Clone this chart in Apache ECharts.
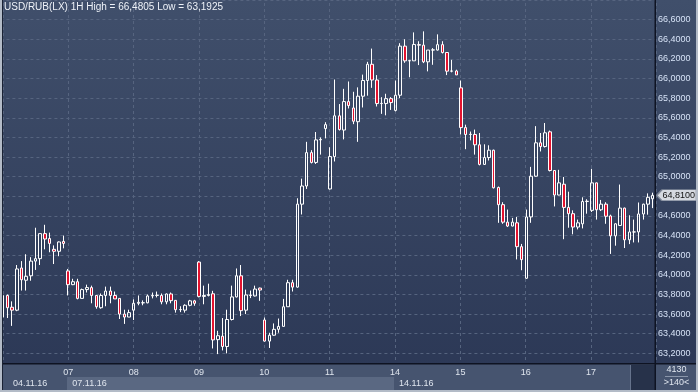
<!DOCTYPE html>
<html><head><meta charset="utf-8">
<script src="https://cdn.jsdelivr.net/npm/echarts@6/dist/echarts.min.js"></script>
<style>html,body{margin:0;padding:0;background:#2c3856}#c{width:698px;height:392px}</style>
</head><body><div id="c"></div><script>
// ---- data ----
const days = ['04.11','07.11','08.11','09.11','10.11','11.11','14.11','15.11','16.11','17.11'];
const hours = ['10','11','12','13','14','15','16','17','18','19','20','21','22','23'];
const categories = days.flatMap(d => hours.map(h => d + ' ' + h + ':00'));
const dayLabels = ['', '07', '08', '09', '10', '11', '14', '15', '16', '17', ''];
const weekLabels = ['04.11.16', '07.11.16', '14.11.16'];
const weekStartIdx = [0, 14, 84];
const yTickLabels = ['63,2000','63,4000','63,6000','63,8000','64,0000','64,2000','64,4000','64,6000','64,8000','65,0000','65,2000','65,4000','65,6000','65,8000','66,0000','66,2000','66,4000','66,6000'];

const open = [
63.57,63.79,63.67,63.64,64.07,63.945,63.99,64.14,64.165,64.42,64.37,64.26,64.24,64.34,
64.04,63.90,63.93,63.76,63.85,63.87,63.79,63.665,63.79,63.835,63.79,63.76,63.60,63.57,
63.64,63.71,63.715,63.715,63.785,63.79,63.79,63.725,63.805,63.74,63.645,63.64,63.69,63.735,
64.13,63.78,63.79,63.807,63.34,63.375,63.27,63.545,63.775,63.99,63.64,63.795,63.785,63.865,
63.54,63.325,63.385,63.445,63.475,63.675,63.92,63.875,64.72,64.905,65.245,65.145,65.375,65.49,
64.875,65.205,65.62,65.475,65.765,65.70,65.56,65.82,65.98,66.145,65.985,65.745,65.745,65.795,
65.675,65.83,66.33,66.18,66.18,66.345,66.34,66.17,66.29,66.29,66.345,66.265,66.075,66.077,
65.905,65.50,65.43,65.43,65.325,65.125,65.195,65.27,64.89,64.715,64.537,64.497,64.53,64.287,
63.965,64.59,65.005,65.345,65.307,65.457,65.063,64.813,64.923,64.687,64.623,64.487,64.52,64.747,
64.657,64.937,64.663,64.72,64.60,64.397,64.503,64.68,64.357,64.437,64.437,64.62,64.72,64.775];
const close = [
63.79,63.665,63.64,64.06,63.95,63.985,64.14,64.165,64.42,64.365,64.32,64.24,64.335,64.32,
63.90,63.93,63.76,63.85,63.87,63.79,63.675,63.79,63.835,63.79,63.755,63.60,63.57,63.615,
63.71,63.72,63.716,63.785,63.79,63.792,63.725,63.805,63.737,63.645,63.647,63.69,63.735,63.71,
63.78,63.79,63.80,63.337,63.38,63.27,63.545,63.775,63.99,63.635,63.795,63.79,63.855,63.845,
63.325,63.385,63.445,63.475,63.675,63.92,63.875,64.72,64.905,65.245,65.145,65.375,65.38,65.53,
65.205,65.62,65.48,65.765,65.725,65.565,65.82,65.98,66.145,65.985,65.745,65.747,65.795,65.755,
65.83,66.33,66.18,66.182,66.347,66.34,66.17,66.29,66.292,66.345,66.265,66.075,66.077,66.037,
65.50,65.43,65.432,65.325,65.125,65.195,65.27,64.887,64.715,64.537,64.497,64.537,64.287,64.155,
64.59,65.005,65.345,65.307,65.447,65.063,64.813,64.937,64.687,64.623,64.487,64.53,64.747,64.75,
64.937,64.663,64.72,64.597,64.397,64.52,64.68,64.357,64.437,64.437,64.62,64.72,64.79,64.81];
const low = [
63.55,63.56,63.48,63.63,63.84,63.84,63.94,64.05,64.10,64.26,64.23,64.11,64.19,64.27,
63.79,63.895,63.75,63.76,63.82,63.71,63.655,63.655,63.68,63.71,63.755,63.55,63.50,63.57,
63.54,63.69,63.69,63.71,63.76,63.77,63.70,63.70,63.71,63.615,63.62,63.615,63.68,63.685,
63.77,63.70,63.78,63.25,63.1925,63.23,63.20,63.535,63.77,63.58,63.60,63.763,63.78,63.735,
63.32,63.255,63.38,63.41,63.475,63.675,63.83,63.87,64.615,64.875,65.135,65.13,65.225,65.39,
64.87,65.155,65.47,65.38,65.695,65.535,65.355,65.705,65.825,65.905,65.715,65.64,65.625,65.68,
65.665,65.80,66.16,66.013,66.18,66.137,66.157,66.073,66.14,66.285,66.255,66.035,66.063,66.037,
65.43,65.28,65.37,65.225,65.115,65.12,65.165,64.88,64.53,64.52,64.487,64.495,64.157,64.047,
63.96,64.53,65.0,65.257,65.297,65.053,64.697,64.81,64.363,64.48,64.413,64.463,64.473,64.623,
64.64,64.563,64.65,64.52,64.213,64.297,64.50,64.273,64.313,64.33,64.33,64.563,64.613,64.68];
const high = [
63.80,63.80,63.73,64.10,64.14,64.21,64.18,64.48,64.42,64.51,64.43,64.30,64.34,64.40,
64.06,63.96,63.96,63.86,63.90,63.89,63.79,63.81,63.88,63.88,63.83,63.76,63.645,63.645,
63.75,63.79,63.74,63.80,63.82,63.83,63.81,63.81,63.82,63.74,63.68,63.70,63.745,63.745,
64.14,63.89,63.91,63.837,63.43,63.56,63.645,63.89,64.065,64.10,63.85,63.84,63.89,63.87,
63.565,63.41,63.505,63.555,63.755,63.95,63.95,64.78,64.98,65.355,65.27,65.455,65.40,65.555,
65.30,65.99,65.74,65.895,65.97,65.865,65.91,66.04,66.17,66.305,66.035,65.81,65.845,65.81,
65.98,66.36,66.40,66.19,66.47,66.38,66.4805,66.29,66.31,66.45,66.38,66.27,66.19,66.09,
65.98,65.53,65.46,65.48,65.445,65.33,65.32,65.275,64.90,64.74,64.665,64.58,64.59,64.315,
64.665,65.10,65.515,65.445,65.547,65.47,65.065,65.07,64.997,64.847,64.657,64.563,64.79,64.77,
65.08,64.94,64.763,64.74,64.613,64.525,64.92,64.685,64.607,64.563,64.737,64.725,64.83,64.837];

// ---- build ----
const fmt = v => v.toFixed(4).replace('.', ',');
const candles = open.map((o, i) => [o, close[i], low[i], high[i]]);
const hi = Math.max(...high), lo = Math.min(...low);
const last = close[close.length - 1];
const FONT = 'Arial';
const gridLine = { color: '#56647f', type: [3, 3], width: 1 };

const chart = echarts.init(document.getElementById('c'), null, { renderer: 'canvas' });
chart.setOption({
  animation: false,
  backgroundColor: new echarts.graphic.LinearGradient(0, 0, 0, 1, [
    { offset: 0, color: '#404f6b' }, { offset: 1, color: '#2b3755' }]),
  title: {
    text: 'USD/RUB(LX) 1H High = ' + fmt(hi) + ' Low = ' + fmt(lo),
    left: 4, top: 2, padding: 0,
    textStyle: { fontSize: 10, fontWeight: 'normal', color: '#eef2f8', fontFamily: FONT }
  },
  grid: [
    { left: 0.4, right: 43, top: -7, bottom: 19 },
    { left: 1.8, right: 41.6, top: 3, bottom: 28 }
  ],
  xAxis: [
    { type: 'category', gridIndex: 0, data: categories, show: false, boundaryGap: true, position: 'bottom' },
    { type: 'value', gridIndex: 1, min: 0, max: 140, interval: 14, position: 'bottom',
      axisLine: { show: false }, axisTick: { show: false }, axisLabel: { show: false },
      splitLine: { show: true, lineStyle: gridLine } },
    { type: 'value', gridIndex: 1, min: 0, max: 140, interval: 14, z: 10, position: 'bottom', offset: 0,
      axisLine: { show: false }, axisTick: { show: false }, splitLine: { show: false },
      axisLabel: { margin: 4, fontSize: 9, color: '#dfe5ee', fontFamily: FONT,
        formatter: v => dayLabels[Math.round(v / 14)] || '' } },
    { type: 'value', gridIndex: 1, min: 0, max: 140, interval: 14, z: 10, position: 'bottom', offset: 11,
      axisLine: { show: false }, axisTick: { show: false }, splitLine: { show: false },
      axisLabel: { margin: 4, fontSize: 9, color: '#dfe5ee', fontFamily: FONT, align: 'left',
        formatter: v => {
          const k = weekStartIdx.indexOf(Math.round(v));
          if (k < 0) return '';
          return (k === 0 ? '{a|' : '{b|') + weekLabels[k] + '}';
        },
        rich: {
          a: { padding: [0, 0, 0, 10], fontSize: 9, color: '#dfe5ee', fontFamily: FONT },
          b: { padding: [0, 0, 0, 4], fontSize: 9, color: '#dfe5ee', fontFamily: FONT }
        } } }
  ],
  yAxis: [
    { type: 'value', gridIndex: 0, position: 'right', min: 63, max: 66.8, interval: 0.2,
      axisLine: { show: false }, axisTick: { show: false },
      axisLabel: { margin: 3, fontSize: 9, color: '#d6e2f6', fontFamily: FONT,
        formatter: v => { const s = fmt(v); return yTickLabels.indexOf(s) >= 0 ? s : ''; } },
      splitLine: { show: true, lineStyle: gridLine } },
    { type: 'value', gridIndex: 1, show: false, min: 0, max: 1 }
  ],
  series: [{
    type: 'candlestick', xAxisIndex: 0, yAxisIndex: 0, data: candles,
    barWidth: 3, clip: false, silent: true,
    itemStyle: { color: 'rgba(0,0,0,0)', color0: '#e3132f',
      borderColor: '#ffffff', borderColor0: '#ffffff', borderColorDoji: '#ffffff', borderWidth: 1 },
    markPoint: {
      silent: true,
      symbol: 'path://M0,6 L6,0 L46,0 L46,12 L6,12 Z',
      symbolSize: [40, 11],
      symbolOffset: [24, 0],
      itemStyle: { color: '#d5d9e0', borderColor: '#7d8696', borderWidth: 1 },
      label: { show: true, position: 'inside', color: '#111', fontSize: 9, fontFamily: FONT,
        offset: [2, 0], formatter: () => fmt(last) },
      data: [{ coord: [categories.length - 1, last], value: last }]
    }
  }],
  graphic: [
    { type: 'rect', z: 5, shape: { x: 0, y: 364, width: 698, height: 28 }, style: { fill: '#46546f' } },
    { type: 'rect', z: 6, shape: { x: 67, y: 377, width: 327, height: 13 }, style: { fill: '#5a6882' } },
    { type: 'rect', z: 6, shape: { x: 631, y: 365, width: 24, height: 26 }, style: { fill: '#27324a' } },
    { type: 'rect', z: 6, shape: { x: 630, y: 365, width: 1, height: 26 }, style: { fill: '#66738c' } },
    { type: 'rect', z: 7, shape: { x: 0, y: 363, width: 698, height: 1.5 }, style: { fill: '#0e1322' } },
    { type: 'rect', z: 7, shape: { x: 654.5, y: 0, width: 1.5, height: 392 }, style: { fill: '#0e1322' } },
    { type: 'rect', z: 8, shape: { x: 0, y: 0, width: 2, height: 392 }, style: { fill: '#b3bbc7' } },
    { type: 'rect', z: 8, shape: { x: 2, y: 0, width: 1, height: 392 }, style: { fill: '#1a2234' } },
    { type: 'rect', z: 8, shape: { x: 696, y: 0, width: 2, height: 392 }, style: { fill: '#b3bbc7' } },
    { type: 'rect', z: 8, shape: { x: 0, y: 390, width: 698, height: 2 }, style: { fill: '#b3bbc7' } },
    { type: 'rect', z: 8, shape: { x: 665, y: 376, width: 23, height: 1 }, style: { fill: '#8a96aa' } },
    { type: 'text', z: 9, style: { x: 676.5, y: 370, text: '4130', fill: '#dfe5ee', font: '9px Arial', textAlign: 'center', textVerticalAlign: 'middle' } },
    { type: 'text', z: 9, style: { x: 676.5, y: 383, text: '>140<', fill: '#dfe5ee', font: '9px Arial', textAlign: 'center', textVerticalAlign: 'middle' } }
  ]
});
</script></body></html>
